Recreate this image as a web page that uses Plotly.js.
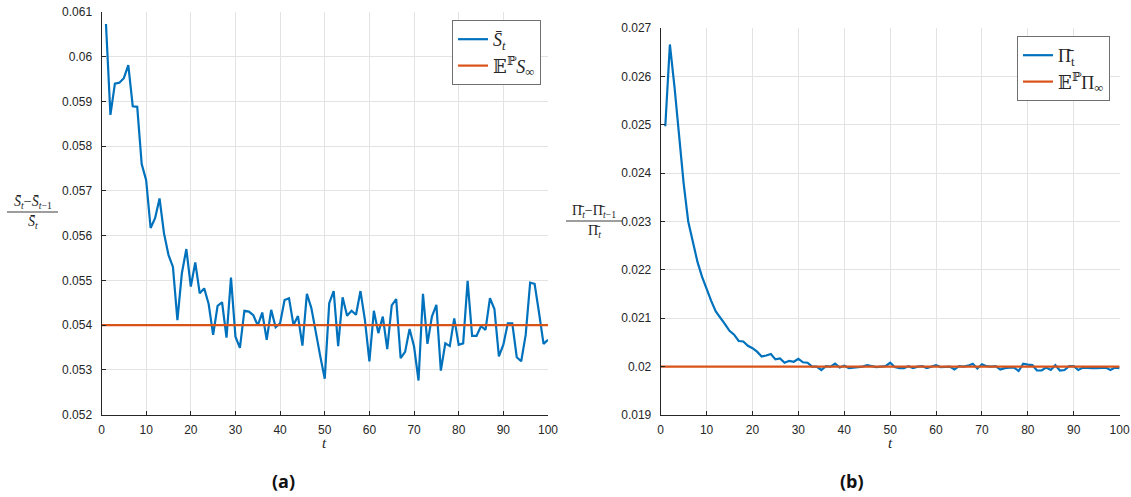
<!DOCTYPE html>
<html>
<head>
<meta charset="utf-8">
<script src="https://cdn.plot.ly/plotly-3.0.1.min.js"></script>
<style>html,body{margin:0;padding:0;background:#fff;}#chart{width:1131px;height:497px;}</style>
</head>
<body>
<div id="chart"></div>
<script>
// ---- data ----
const tSteps = Array.from({length: 100}, (_, i) => i + 1);
const sMean = [0.06073,0.0587,0.0594,0.05942,0.05952,0.05981,0.05889,0.05888,0.0576,0.05724,
  0.05617,0.05639,0.05683,0.05605,0.05557,0.0553,0.05411,0.05516,0.0557,0.05486,
  0.0554,0.05471,0.05482,0.05447,0.05378,0.05443,0.05451,0.05372,0.05506,0.05374,
  0.05349,0.05432,0.0543,0.05422,0.05399,0.05428,0.05367,0.05434,0.05395,0.05404,
  0.05456,0.0546,0.054,0.0542,0.05354,0.0547,0.05438,0.05382,0.0533,0.0528,
  0.05449,0.05476,0.05353,0.05462,0.05421,0.05432,0.05423,0.05476,0.05411,0.05319,
  0.05432,0.05382,0.05419,0.05346,0.05444,0.05458,0.05326,0.0534,0.05391,0.05352,
  0.05276,0.0547,0.05358,0.05419,0.05445,0.05298,0.05359,0.05353,0.05415,0.05356,
  0.05359,0.05499,0.05376,0.05376,0.05398,0.05389,0.0546,0.05436,0.0533,0.05356,
  0.05404,0.05404,0.05328,0.05319,0.05378,0.05495,0.05492,0.05427,0.05358,0.05367];
const piMean = [0.02497,0.02666,0.02579,0.02476,0.02379,0.023,0.02255,0.02217,0.02186,0.02159,
  0.02136,0.02114,0.02102,0.02088,0.02074,0.02066,0.02053,0.02052,0.02043,0.02038,
  0.02031,0.02021,0.02023,0.02026,0.02015,0.02017,0.02008,0.02012,0.0201,0.02016,
  0.02009,0.02008,0.02,0.02,0.01993,0.02001,0.02,0.02006,0.01998,0.02002,
  0.01997,0.01998,0.01998,0.02,0.02003,0.02001,0.01999,0.02,0.02001,0.02008,
  0.01999,0.01997,0.01997,0.02001,0.01997,0.02,0.02001,0.01997,0.02,0.02003,
  0.01999,0.02,0.02,0.01994,0.02001,0.02,0.02002,0.02006,0.01996,0.02005,
  0.02001,0.02,0.02001,0.01994,0.01997,0.01998,0.01998,0.01991,0.02006,0.02004,
  0.02003,0.01992,0.01992,0.01998,0.01993,0.02003,0.01992,0.01993,0.02001,0.02001,
  0.01993,0.01998,0.01997,0.01997,0.01997,0.01998,0.01998,0.01993,0.01998,0.01997];
const limitT = [0, 100];
const sLimit = [0.054, 0.054];
const piLimit = [0.02, 0.02];
const xTicks = [0,10,20,30,40,50,60,70,80,90,100];
const sTickVals = [0.052,0.053,0.054,0.055,0.056,0.057,0.058,0.059,0.06,0.061];
const sTickText = ['0.052','0.053','0.054','0.055','0.056','0.057','0.058','0.059','0.06','0.061'];
const piTickVals = [0.019,0.02,0.021,0.022,0.023,0.024,0.025,0.026,0.027];
const piTickText = ['0.019','0.02','0.021','0.022','0.023','0.024','0.025','0.026','0.027'];

// ---- styling ----
const BLUE = '#0072BD', ORANGE = '#D95319', AX = '#262626', GRID = '#e3e3e3';
const W = 1131, H = 497;
const px = v => v / W, py = v => 1 - v / H;
const tickFont = {family: 'Liberation Sans, Arial, sans-serif', size: 12, color: AX};
const serif = 'Liberation Serif, DejaVu Serif, serif';

function xax(domain) {
  return {domain, range: [0, 100], tickvals: xTicks, ticktext: xTicks.map(String),
    showgrid: true, gridcolor: GRID, zeroline: false, showline: true, linecolor: AX, linewidth: 1,
    ticks: 'inside', ticklen: 4, tickcolor: AX, tickfont: tickFont, ticklabelstandoff: 4, fixedrange: true};
}
function yax(domain, range, vals, text) {
  return {domain, range, tickvals: vals, ticktext: text,
    showgrid: true, gridcolor: GRID, zeroline: false, showline: true, linecolor: AX, linewidth: 1,
    ticks: 'inside', ticklen: 4, tickcolor: AX, tickfont: tickFont, ticklabelstandoff: 6, fixedrange: true};
}

const traces = [
  {x: tSteps, y: sMean, type: 'scatter', mode: 'lines', line: {color: BLUE, width: 2.2},
   name: '<i>S̄</i><sub><i>t</i></sub>', xaxis: 'x', yaxis: 'y', legend: 'legend'},
  {x: limitT, y: sLimit, type: 'scatter', mode: 'lines', line: {color: ORANGE, width: 2.2},
   name: '𝔼<sup>ℙ</sup><i>S</i><sub>∞</sub>', xaxis: 'x', yaxis: 'y', legend: 'legend'},
  {x: tSteps, y: piMean, type: 'scatter', mode: 'lines', line: {color: BLUE, width: 2.2},
   name: 'Π̄<sub>t</sub>', xaxis: 'x2', yaxis: 'y2', legend: 'legend2'},
  {x: limitT, y: piLimit, type: 'scatter', mode: 'lines', line: {color: ORANGE, width: 2.2},
   name: '𝔼<sup>ℙ</sup>Π<sub>∞</sub>', xaxis: 'x2', yaxis: 'y2', legend: 'legend2'}
];

const legendBase = {bgcolor: '#fff', bordercolor: '#707070', borderwidth: 1,
  font: {family: serif, size: 18, color: AX}, xanchor: 'right', yanchor: 'top', tracegroupgap: 0};

const fracFont = {family: serif, size: 14, color: AX};

const layout = {
  width: W, height: H, margin: {l: 0, r: 0, t: 0, b: 0},
  paper_bgcolor: '#fff', plot_bgcolor: '#fff', showlegend: true,
  xaxis: xax([px(101.5), px(548)]),
  yaxis: yax([1 - 414.5 / H, 1 - 12 / H], [0.052, 0.061], sTickVals, sTickText),
  xaxis2: Object.assign(xax([px(660.7), px(1119.6)]), {anchor: 'y2'}),
  yaxis2: Object.assign(yax([1 - 415 / H, 1 - 28 / H], [0.019, 0.027], piTickVals, piTickText), {anchor: 'x2'}),
  legend: Object.assign({x: px(541), y: py(20)}, legendBase),
  legend2: Object.assign({x: px(1110), y: py(36)}, legendBase),
  shapes: [
    {type: 'line', xref: 'paper', yref: 'paper', x0: px(7), x1: px(58), y0: py(212), y1: py(212), line: {color: AX, width: 0.9}},
    {type: 'line', xref: 'paper', yref: 'paper', x0: px(566), x1: px(622), y0: py(221), y1: py(221), line: {color: AX, width: 0.9}}
  ],
  annotations: [
    {xref: 'paper', yref: 'paper', x: px(32.5), y: py(202), text: '<i>S̄</i><sub><i>t</i></sub>−<i>S̄</i><sub><i>t</i>−1</sub>',
     showarrow: false, font: fracFont, xanchor: 'center', yanchor: 'middle'},
    {xref: 'paper', yref: 'paper', x: px(32.5), y: py(223), text: '<i>S̄</i><sub><i>t</i></sub>',
     showarrow: false, font: fracFont, xanchor: 'center', yanchor: 'middle'},
    {xref: 'paper', yref: 'paper', x: px(594), y: py(211), text: 'Π̄<sub><i>t</i></sub>−Π̄<sub><i>t</i>−1</sub>',
     showarrow: false, font: fracFont, xanchor: 'center', yanchor: 'middle'},
    {xref: 'paper', yref: 'paper', x: px(594), y: py(232), text: 'Π̄<sub><i>t</i></sub>',
     showarrow: false, font: fracFont, xanchor: 'center', yanchor: 'middle'},
    {xref: 'paper', yref: 'paper', x: px(324), y: py(443), text: '<i>t</i>',
     showarrow: false, font: {family: serif, size: 15, color: AX}, xanchor: 'center', yanchor: 'middle'},
    {xref: 'paper', yref: 'paper', x: px(890), y: py(443), text: '<i>t</i>',
     showarrow: false, font: {family: serif, size: 15, color: AX}, xanchor: 'center', yanchor: 'middle'},
    {xref: 'paper', yref: 'paper', x: px(283), y: py(481), text: '<b>(a)</b>',
     showarrow: false, font: {family: 'Open Sans, sans-serif', size: 18, color: '#111'}, xanchor: 'center', yanchor: 'middle'},
    {xref: 'paper', yref: 'paper', x: px(852), y: py(481), text: '<b>(b)</b>',
     showarrow: false, font: {family: 'Open Sans, sans-serif', size: 18, color: '#111'}, xanchor: 'center', yanchor: 'middle'}
  ]
};

Plotly.newPlot('chart', traces, layout, {staticPlot: true, displayModeBar: false});
</script>
</body>
</html>
